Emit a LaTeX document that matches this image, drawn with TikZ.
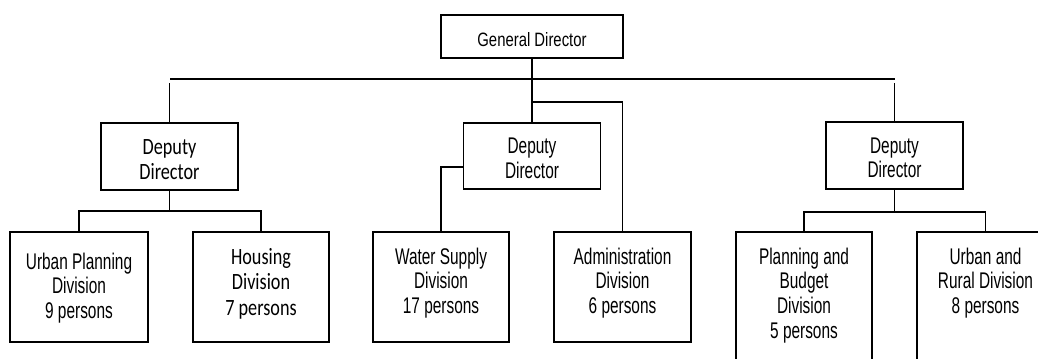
\documentclass[tikz,border=0pt]{standalone}
\usepackage{fontspec}
\setmainfont[FakeStretch=0.68]{Liberation Sans}
\newfontfamily\topfont[FakeStretch=0.77]{Liberation Sans}
\newfontfamily\calfont[FakeStretch=0.78]{Carlito}
\begin{document}
\begin{tikzpicture}[x=0.75pt, y=-0.75pt,
  line width=1.2pt,
  box/.style={draw, rectangle, inner sep=0pt},
  lbl/.style={align=center, inner sep=0pt, font=\fontsize{17}{18.4}\selectfont},
  toplbl/.style={align=center, inner sep=0pt, font=\topfont\fontsize{14.5}{16}\selectfont},
  clbl/.style={align=center, inner sep=0pt, font=\calfont\fontsize{17.5}{19.3}\selectfont},
  divtext/.style={lbl, anchor=north, yshift=-12pt}
]
\useasboundingbox (0,0) rectangle (1038,358);
\clip (0,0) rectangle (1038,358);

% top level
\node[box, minimum width=136.5pt, minimum height=32.25pt] (gd) at (532,36.5) {};
\node[toplbl] (gdt) at (532,40) {General Director};

% deputy directors
\node[box, minimum width=102.75pt, minimum height=50.25pt] (dl) at (169.5,156.5) {};
\node[clbl] (dlt) at (169.5,159.5) {Deputy\\Director};
\node[box, minimum width=102.75pt, minimum height=49.5pt] (dm) at (532,156) {};
\node[lbl] (dmt) at (532,158.5) {Deputy\\Director};
\node[box, minimum width=102.75pt, minimum height=50.25pt] (dr) at (894.5,155.5) {};
\node[lbl] (drt) at (894.5,158) {Deputy\\Director};

% divisions
\node[box, minimum width=103.5pt, minimum height=82.5pt] (up) at (79,287) {};
\node[lbl, anchor=north, yshift=-15.5pt] (upt) at (up.north) {Urban Planning\\Division\\9 persons};
\node[box, minimum width=102pt, minimum height=82.5pt] (hs) at (261,287) {};
\node[clbl, anchor=north, yshift=-12pt] (hst) at (hs.north) {Housing\\Division\\7 persons};
\node[box, minimum width=102pt, minimum height=82.5pt] (ws) at (441,287) {};
\node[divtext] (wst) at (ws.north) {Water Supply\\Division\\17 persons};
\node[box, minimum width=102.75pt, minimum height=82.5pt] (ad) at (622.5,287) {};
\node[divtext] (adt) at (ad.north) {Administration\\Division\\6 persons};
\node[box, minimum width=102pt, minimum height=126pt] (pb) at (804,316) {};
\node[divtext] (pbt) at (pb.north) {Planning and\\Budget\\Division\\5 persons};
\node[box, minimum width=102.75pt, minimum height=126pt] (ur) at (985.5,316) {};
\node[divtext] (urt) at (ur.north) {Urban and\\Rural Division\\8 persons};

% bus lines
\coordinate (busL) at (170,79);
\coordinate (busR) at (895,79);
\draw (busL) -- (busR);
\draw (dl.north) -- (dl.north |- 0,83);
\draw (dr.north) -- (dr.north |- 0,83);
\draw (gd.south) -- (dm.north);
\draw (gd.south |- 0,102) -| (ad.north);
\draw (dm.west |- 0,167) -| (ws.north);

% left group
\draw (dl.south) -- (dl.south |- 0,211);
\draw (up.north) |- (dl.south |- 0,211) -| (hs.north);

% right group
\draw (dr.south) -- (dr.south |- 0,212);
\draw (pb.north) |- (dr.south |- 0,212) -| (ur.north);
\end{tikzpicture}
\end{document}
